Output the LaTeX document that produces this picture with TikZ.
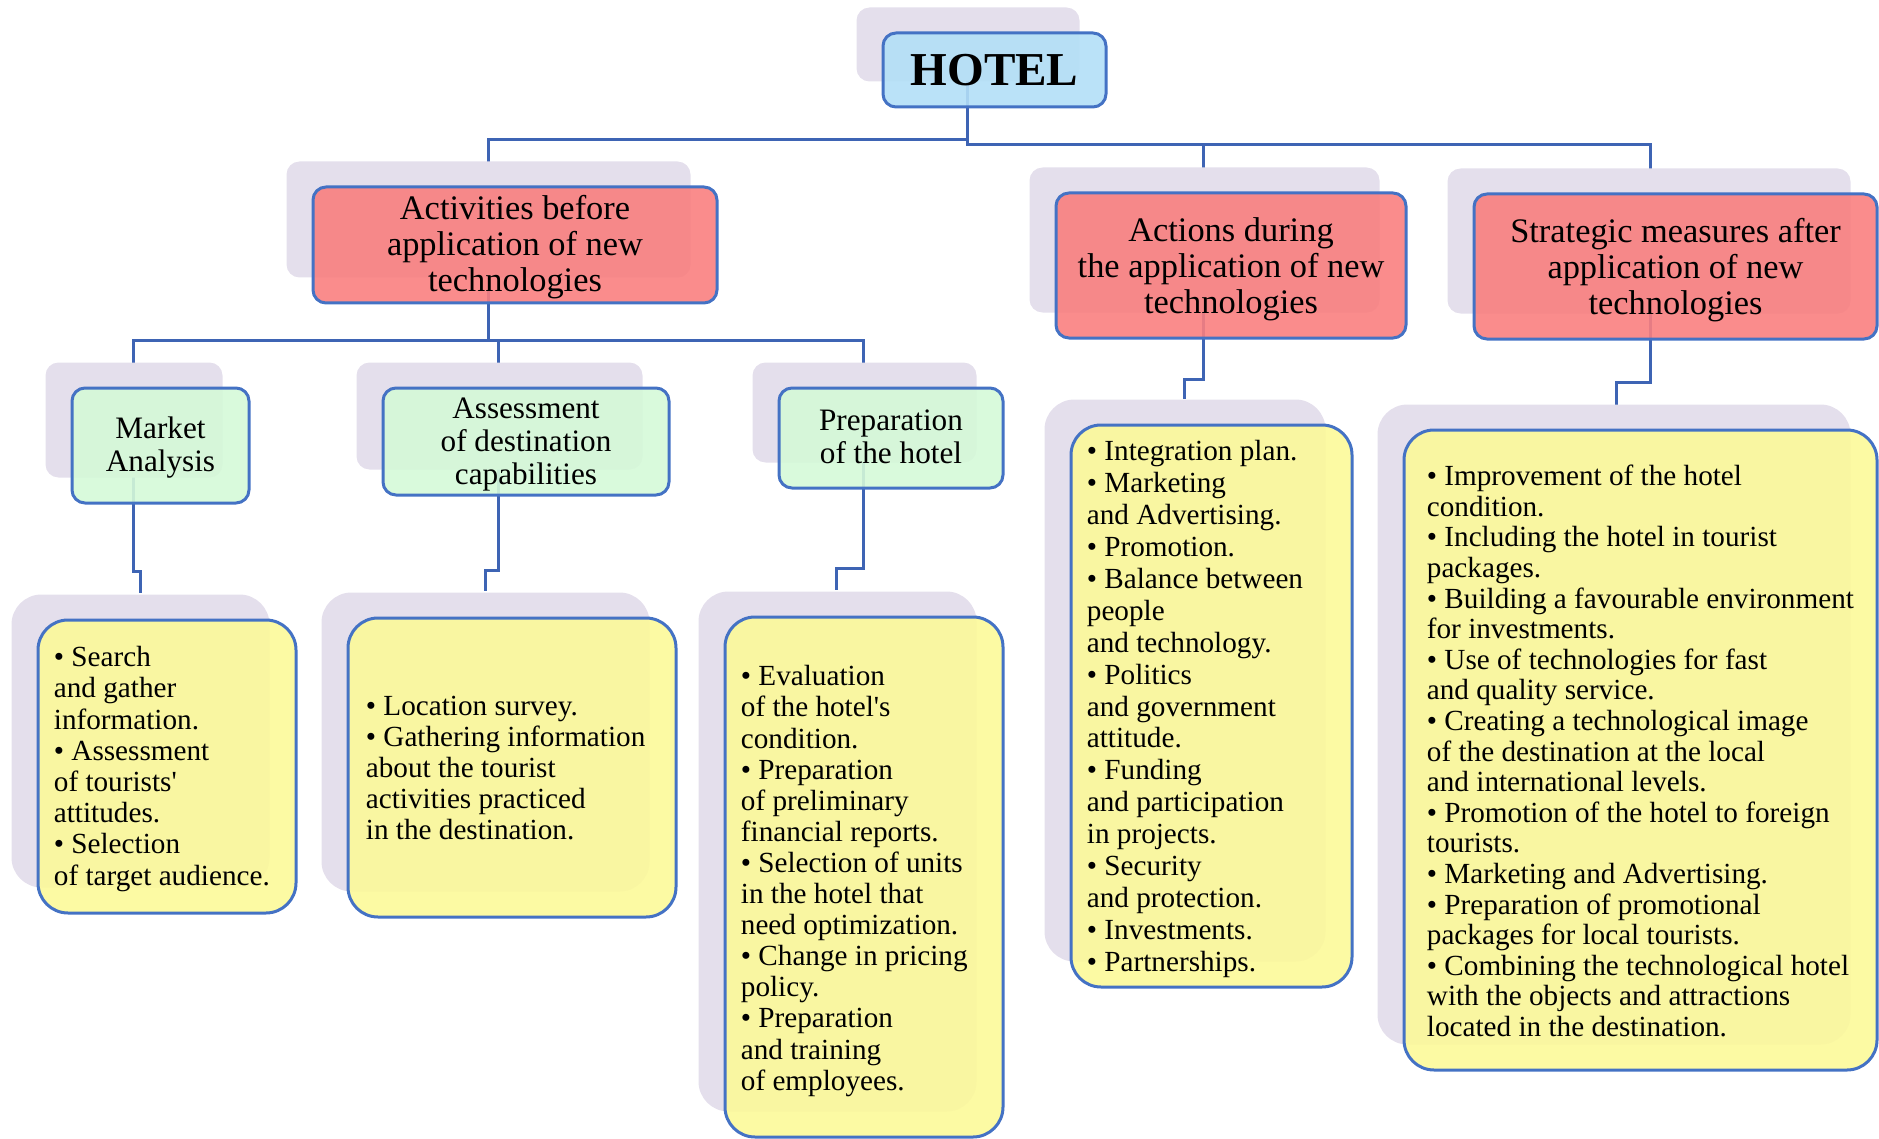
\documentclass[tikz,border=0pt]{standalone}
\usepackage{fontspec}
\setmainfont{Liberation Serif}[Ligatures=TeXOff]
\definecolor{edgeblue}{RGB}{68,114,196}
\definecolor{linkblue}{RGB}{62,100,180}
\definecolor{shadecol}{RGB}{228,223,236}
\definecolor{hotelfill}{RGB}{179,223,247}
\definecolor{redfill}{RGB}{249,127,127}
\definecolor{greenfill}{RGB}{213,249,216}
\definecolor{yellowfill}{RGB}{252,249,153}
\pgfdeclarelayer{links}
\pgfdeclarelayer{shades}
\pgfsetlayers{links,shades,main}
\tikzset{
  card/.style={draw=edgeblue, line width=1.5pt, fill opacity=0.9, text opacity=1,
    inner sep=0pt, align=center},
  hotelbox/.style={card, fill=hotelfill, rounded corners=6.5pt,
    font=\fontsize{23.6pt}{26pt}\selectfont\bfseries},
  phasebox/.style={card, fill=redfill, rounded corners=6.5pt},
  stagebox/.style={card, fill=greenfill, rounded corners=6.5pt},
  listbox/.style={card, fill=yellowfill, rounded corners=15pt},
  phasetext/.style={inner sep=0pt, align=center, font=\fontsize{17.2pt}{18pt}\selectfont},
  stagetext/.style={inner sep=0pt, align=center, font=\fontsize{15.6pt}{16.5pt}\selectfont},
  listtext/.style={anchor=west, inner sep=0pt, align=left},
  link/.style={draw=linkblue, line width=1.5pt},
}
% shadow card behind a node, offset up and to the left
\newcommand\cardshade[2]{%
  \fill[shadecol, rounded corners=#2]
    ([shift={(-12.5pt,12pt)}]#1.north west) rectangle ([shift={(-14pt,13.5pt)}]#1.south east);}
\begin{document}
\begin{tikzpicture}[x=0.5pt, y=-0.5pt]
\useasboundingbox (0,0) rectangle (1879,1139);

% top level
\node[hotelbox, minimum width=111.5pt, minimum height=37pt] (hotel) at (994.5,70) {HOTEL};

% phases
\node[phasebox, minimum width=202pt, minimum height=58pt] (red1) at (515,245) {};
\node[phasebox, minimum width=175pt, minimum height=72.5pt] (red2) at (1231,265.5) {};
\node[phasebox, minimum width=201.5pt, minimum height=72.5pt] (red3) at (1675.5,266.5) {};
\node[phasetext] (red1t) at ([yshift=-1.2pt]red1.center)
  {Activities before\\application of new\\technologies};
\node[phasetext] (red2t) at ([yshift=-1.8pt]red2.center)
  {Actions during\\the application of new\\technologies};
\node[phasetext] (red3t) at ([yshift=-1.8pt]red3.center)
  {Strategic measures after\\application of new\\technologies};

% preparatory stages
\node[stagebox, minimum width=88.5pt, minimum height=57.5pt] (grn1) at (160.5,445.5) {};
\node[stagebox, minimum width=143pt, minimum height=53.5pt] (grn2) at (526,441.5) {};
\node[stagebox, minimum width=112pt, minimum height=50pt] (grn3) at (891,438) {};
\node[stagetext] (grn1t) at ([yshift=-1.2pt]grn1.center) {Market\\Analysis};
\node[stagetext] (grn2t) at ([yshift=-1.5pt]grn2.center) {Assessment\\of destination\\capabilities};
\node[stagetext] (grn3t) at ([yshift=0.5pt]grn3.center) {Preparation\\of the hotel};

% lists
\node[listbox, minimum width=129pt, minimum height=146.5pt] (y1) at (167,766.5) {};
\node[listbox, minimum width=164pt, minimum height=149.5pt] (y2) at (512,767.5) {};
\node[listbox, minimum width=139pt, minimum height=260pt] (y3) at (864,877) {};
\node[listbox, minimum width=140.5pt, minimum height=281pt] (y4) at (1211.5,706) {};
\node[listbox, minimum width=236.5pt, minimum height=320pt] (y5) at (1640.5,750) {};

\node[listtext, font=\fontsize{14.6pt}{15.6pt}\selectfont] (y1t) at ([xshift=8.5pt,yshift=-1.2pt]y1.west)
  {• Search\\and gather\\information.\\• Assessment\\of tourists'\\attitudes.\\• Selection\\of target audience.};
\node[listtext, font=\fontsize{14.6pt}{15.4pt}\selectfont] (y2t) at ([xshift=9.5pt,yshift=-0.3pt]y2.west)
  {• Location survey.\\• Gathering information\\about the tourist\\activities practiced\\in the destination.};
\node[listtext, font=\fontsize{14.6pt}{15.55pt}\selectfont] (y3t) at ([xshift=8.5pt,yshift=-2pt]y3.west)
  {• Evaluation\\of the hotel's\\condition.\\• Preparation\\of preliminary\\financial reports.\\• Selection of units\\in the hotel that\\need optimization.\\• Change in pricing\\policy.\\• Preparation\\and training\\of employees.};
\node[listtext, font=\fontsize{14.6pt}{15.95pt}\selectfont] (y4t) at ([xshift=8.5pt,yshift=-1.5pt]y4.west)
  {• Integration plan.\\• Marketing\\and Advertising.\\• Promotion.\\• Balance between\\people\\and technology.\\• Politics\\and government\\attitude.\\• Funding\\and participation\\in projects.\\• Security\\and protection.\\• Investments.\\• Partnerships.};
\node[listtext, font=\fontsize{14.6pt}{15.3pt}\selectfont] (y5t) at ([xshift=12pt,yshift=-0.5pt]y5.west)
  {• Improvement of the hotel\\condition.\\• Including the hotel in tourist\\packages.\\• Building a favourable environment\\for investments.\\• Use of technologies for fast\\and quality service.\\• Creating a technological image\\of the destination at the local\\and international levels.\\• Promotion of the hotel to foreign\\tourists.\\• Marketing and Advertising.\\• Preparation of promotional\\packages for local tourists.\\• Combining the technological hotel\\with the objects and attractions\\located in the destination.};

% shadow cards
\begin{pgfonlayer}{shades}
  \cardshade{hotel}{6.5pt}
  \cardshade{red1}{6.5pt}
  \cardshade{red2}{6.5pt}
  \cardshade{red3}{6.5pt}
  \cardshade{grn1}{6.5pt}
  \cardshade{grn2}{6.5pt}
  \cardshade{grn3}{6.5pt}
  \cardshade{y1}{15pt}
  \cardshade{y2}{15pt}
  \cardshade{y3}{15pt}
  \cardshade{y4}{15pt}
  \cardshade{y5}{15pt}
\end{pgfonlayer}

% connectors
\begin{pgfonlayer}{links}
  \coordinate (hA) at (967,140);
  \coordinate (hB) at (967,145);
  \coordinate (k1) at (488,340);
  \coordinate (d2) at (1203,379);
  \coordinate (e2) at (1184,399);
  \coordinate (d3) at (1650,382);
  \coordinate (e3) at (1616,405);
  \coordinate (g1) at (133,571);
  \coordinate (f1) at (140,593);
  \coordinate (g2) at (498,570);
  \coordinate (f2) at (485,591);
  \coordinate (g3) at (863,568);
  \coordinate (f3) at (836,590);
  \draw[link] (hotel.center -| hA) -- (hA) -| (k1);
  \draw[link] (hA) -- (hB) -| (d2) -| (e2);
  \draw[link] (hB) -| (d3) -| (e3);
  \draw[link] (k1) -| (g1) -| (f1);
  \draw[link] (k1) -| (g2) -| (f2);
  \draw[link] (k1) -| (g3) -| (f3);
\end{pgfonlayer}
\end{tikzpicture}
\end{document}
